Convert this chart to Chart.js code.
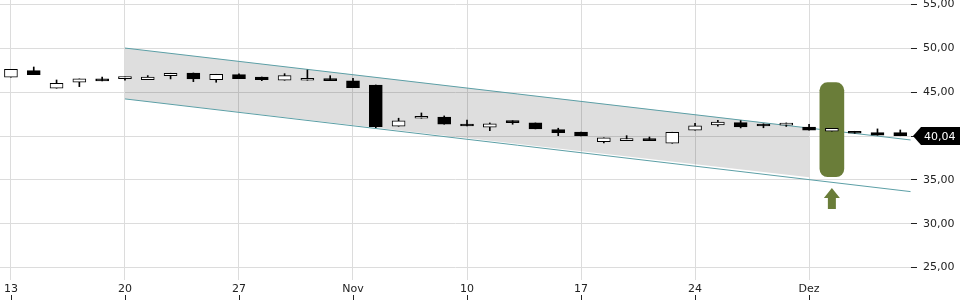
<!DOCTYPE html>
<html>
<head>
<meta charset="utf-8">
<script src="https://cdn.jsdelivr.net/npm/chart.js@4.4.1/dist/chart.umd.min.js"></script>
<style>
  html, body { margin: 0; padding: 0; background: #fff; }
  #wrap { width: 960px; height: 300px; position: relative; }
</style>
</head>
<body>
<div id="wrap"><canvas id="kurs"></canvas></div>
<script>
// Tageskerzen (Handelstage ab 13. Okt.)
const open  = [46.71, 47.46, 45.46, 46.14, 46.52, 46.55, 46.44, 46.89, 47.20, 46.44,
               47.01, 46.74, 46.37, 46.37, 46.52, 46.29, 45.83, 41.12, 42.04, 42.18,
               41.22, 41.01, 41.76, 41.50, 40.74, 40.47, 39.37, 39.48, 39.71, 39.18,
               40.67, 41.27, 41.53, 41.18, 41.25, 41.04, 40.55, 40.55, 40.39, 40.39];
const high  = [47.62, 47.88, 46.40, 46.52, 46.74, 46.74, 46.90, 47.17, 47.20, 47.05,
               47.10, 46.74, 47.12, 47.54, 46.89, 46.60, 45.83, 42.04, 42.64, 42.30,
               41.84, 41.50, 41.76, 41.50, 40.90, 40.47, 39.79, 40.05, 39.90, 40.44,
               41.47, 41.81, 41.76, 41.40, 41.50, 41.35, 40.90, 40.55, 40.82, 40.70];
const low   = [46.71, 47.01, 45.46, 45.64, 46.29, 46.37, 46.44, 46.52, 46.21, 46.14,
               46.55, 46.32, 46.37, 46.37, 46.32, 45.52, 40.96, 41.12, 42.04, 41.35,
               41.15, 40.62, 41.35, 40.82, 40.05, 40.02, 39.22, 39.48, 39.48, 39.18,
               40.67, 41.12, 40.93, 40.95, 41.10, 40.67, 40.55, 40.32, 40.10, 40.04];
const close = [47.62, 47.01, 46.03, 46.52, 46.29, 46.57, 46.74, 47.17, 46.52, 47.05,
               46.55, 46.44, 46.89, 46.60, 46.32, 45.52, 41.08, 41.73, 42.07, 41.35,
               41.15, 41.39, 41.53, 40.82, 40.39, 40.02, 39.79, 39.51, 39.48, 40.44,
               41.16, 41.61, 41.04, 41.15, 41.28, 40.67, 40.90, 40.32, 40.10, 40.04];

// Achsen
const tickIndex  = [0, 5, 10, 15, 20, 25, 30, 35];
const tickLabels = ['13', '20', '27', 'Nov', '10', '17', '24', 'Dez'];
const yTicks     = [25, 30, 35, 40, 45, 50, 55];

// Trendkanal
const channelX     = [5, 39.45];
const channelUpper = [50.04, 39.56];
const channelLower = [44.24, 33.67];
const bandX        = [5, 35];
const bandUpper    = [50.04, 40.95];
const bandLower    = [44.24, 35.30];

// Markierung
const markIndex = 36;
const markRange = [35.37, 46.09];
const arrowVals = [31.69, 32.95, 34.09]; // unten, Hals, Spitze

const gruen = '#6a7d39';
const kanal = '#5c9fa6';

const pts = (xs, ys) => xs.map((x, i) => ({ x: x, y: ys[i] }));

const koerper = open.map((o, i) => ({ x: i, y: [o, close[i]] }));
const dochte  = open.map((o, i) => ({ x: i, y: [low[i], high[i]] }));

Chart.defaults.font.family = 'DejaVu Sans';
Chart.defaults.font.size = 11;

// Kurslabel rechts und Pfeil
const extras = {
  id: 'extras',
  afterDatasetsDraw(chart) {
    const ctx = chart.ctx;
    const xs = chart.scales.x, ys = chart.scales.y;
    const ax = xs.getPixelForValue(markIndex);
    const yb = ys.getPixelForValue(arrowVals[0]);
    const yn = ys.getPixelForValue(arrowVals[1]);
    const yt = ys.getPixelForValue(arrowVals[2]);
    ctx.save();
    ctx.fillStyle = gruen;
    ctx.beginPath();
    ctx.moveTo(ax, yt);
    ctx.lineTo(ax + 8, yn);
    ctx.lineTo(ax + 4, yn);
    ctx.lineTo(ax + 4, yb);
    ctx.lineTo(ax - 4, yb);
    ctx.lineTo(ax - 4, yn);
    ctx.lineTo(ax - 8, yn);
    ctx.closePath();
    ctx.fill();
    ctx.restore();
  },
  afterDraw(chart) {
    const ctx = chart.ctx;
    const xs = chart.scales.x, ys = chart.scales.y;
    const last = close[close.length - 1];
    const py = Math.round(ys.getPixelForValue(last));
    const left = chart.chartArea.right + 2;
    ctx.save();
    ctx.fillStyle = '#000';
    ctx.beginPath();
    ctx.moveTo(left, py);
    ctx.lineTo(left + 8, py - 9);
    ctx.lineTo(chart.width, py - 9);
    ctx.lineTo(chart.width, py + 9);
    ctx.lineTo(left + 8, py + 9);
    ctx.closePath();
    ctx.fill();
    ctx.fillStyle = '#fff';
    ctx.font = '11px "DejaVu Sans"';
    ctx.textBaseline = 'middle';
    ctx.fillText(last.toFixed(2).replace('.', ','), left + 11, py + 1);
    // kleine Striche unter den Datumslabels
    ctx.strokeStyle = '#222';
    ctx.lineWidth = 1;
    tickIndex.forEach(t => {
      const px = Math.round(xs.getPixelForValue(t)) + 0.5;
      ctx.beginPath();
      ctx.moveTo(px, chart.height - 5);
      ctx.lineTo(px, chart.height);
      ctx.stroke();
    });
    ctx.restore();
  }
};

new Chart(document.getElementById('kurs'), {
  type: 'bar',
  data: {
    datasets: [
      {
        type: 'line', data: pts(bandX, bandUpper), fill: '+1',
        backgroundColor: 'rgba(0,0,0,0.13)', borderWidth: 0, pointRadius: 0, order: 7
      },
      {
        type: 'line', data: pts(bandX, bandLower), fill: false,
        borderWidth: 0, pointRadius: 0, order: 6
      },
      {
        type: 'line', data: pts(channelX, channelUpper),
        borderColor: kanal, borderWidth: 1, pointRadius: 0, order: 5
      },
      {
        type: 'line', data: pts(channelX, channelLower),
        borderColor: kanal, borderWidth: 1, pointRadius: 0, order: 4
      },
      {
        data: [{ x: markIndex, y: markRange }], backgroundColor: gruen,
        barThickness: 24, borderRadius: 8, borderSkipped: false, grouped: false, order: 3
      },
      {
        data: dochte, backgroundColor: '#000', barThickness: 1,
        borderWidth: 0, grouped: false, order: 2
      },
      {
        data: koerper,
        backgroundColor: open.map((o, i) => close[i] >= o ? '#fff' : '#000'),
        borderColor: '#000', borderWidth: 1, borderSkipped: false, minBarLength: 2,
        barThickness: 13, grouped: false, order: 1
      }
    ]
  },
  options: {
    responsive: true,
    maintainAspectRatio: false,
    animation: false,
    layout: { padding: 0 },
    plugins: { legend: { display: false }, tooltip: { enabled: false } },
    scales: {
      x: {
        type: 'linear', min: -0.48, max: 39.47, offset: false,
        afterBuildTicks: s => { s.ticks = tickIndex.map(v => ({ value: v })); },
        afterFit: s => { s.height = 20; s.paddingLeft = 0; s.paddingRight = 0; },
        grid: { color: '#dcdcdc', drawTicks: false, offset: false },
        border: { display: false },
        ticks: {
          color: '#222', padding: 3, maxRotation: 0, autoSkip: false,
          callback: v => tickLabels[tickIndex.indexOf(v)]
        }
      },
      y: {
        position: 'right', min: 23.59, max: 55.52,
        afterBuildTicks: s => { s.ticks = yTicks.map(v => ({ value: v })); },
        afterFit: s => { s.width = 49; s.paddingTop = 0; s.paddingBottom = 0; },
        grid: { color: '#dcdcdc', tickColor: '#222', tickLength: 6 },
        border: { display: false },
        ticks: {
          color: '#222', padding: 6,
          callback: v => v.toFixed(2).replace('.', ',')
        }
      }
    }
  },
  plugins: [extras]
});
</script>
</body>
</html>
